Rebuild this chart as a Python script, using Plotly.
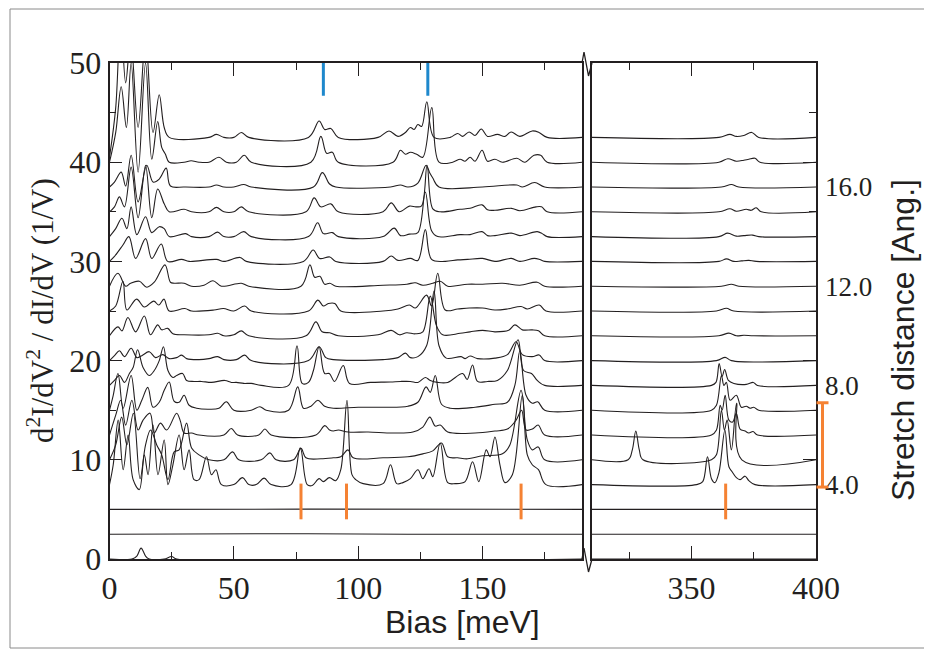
import plotly.graph_objects as go

# stacked d2I/dV2 spectra, one per stretch step (baseline offset 2.5 per step)
offsets = [0, 2.5, 5, 7.5, 10, 12.5, 15, 17.5, 20, 22.5, 25, 27.5, 30, 32.5, 35, 37.5, 40, 42.5]

# left panel (bias 0-190 meV): (bias, height above baseline)
t00 = [(0, 0), (9, 0), (11, 0.3), (12.7, 1.1), (14.5, 0.3), (16, 0), (22, 0), (25, 0.25), (27, 0), (190, 0)]
t01 = [(0, 0), (60, 0.05), (120, 0), (190, 0)]
t02 = [(0, 0), (80, 0.03), (190, 0)]
t03 = [(0, 0), (1.5, 2), (3.5, 6.5), (5.5, 1.5), (7.5, 5), (9.5, 0.5), (12, -0.5), (14, 3), (15.5, 1), (17.5, 6),
       (19.5, 1), (22, 4.5), (23.5, 0), (25.5, 2), (28, 5), (30, 1.5), (32, 3.5), (34, 0.5), (36, 0.5), (39, 2.8),
       (41, 1), (42.8, 1.5), (45, 0), (50, 0), (53.5, 0.7), (56, 0), (59, 0), (62.2, 0.65), (65, 0), (73, 0),
       (76.7, 3.7), (79.5, 0), (81.5, -0.1), (84.3, 0.6), (86, 0.3), (88.4, 0.7), (91, 0.4), (93, 1.5), (95.5, 8.5),
       (97.5, 1.0), (99, 0.5), (102, 0.1), (110, 0.1), (113, 2.0), (115.5, 0.1), (118, 0.2), (121, 0.6), (124, 1.5),
       (126, 0.6), (128.5, 1.6), (130, 0.8), (133, 4.2), (136, 0.2), (139, 0.1), (143, 0.3), (146, 2.3), (148.5, 0.3),
       (151.5, 3.5), (153, 2.8), (155, 4.8), (157, 2.0), (159, 0.2), (162, 1.0), (166, 9), (168, 3), (170, 2.0),
       (172.5, 1.5), (175.5, 0), (190, 0)]
t04 = [(0, 0), (2.5, 1.5), (4.9, 4.3), (7, 1.5), (9.6, 4.7), (12.3, -1.9), (14.5, 1.5), (16.5, 3), (19, 1.5),
       (21, 0.5), (23.5, -2.0), (26, 0.8), (28, 1.0), (31, 3.7), (33, 1.2), (36, 0.5), (40, 0), (46, 0), (49.5, 0.8),
       (52, 0), (61, 0), (64.5, 0.7), (67, 0), (74, 0), (77, 1.15), (79, 0.2), (85, 0.1), (90, 0.2), (93, 0.3),
       (95.9, 1.0), (98, 0.2), (110, 0.2), (120, 0.3), (126, 0.6), (130, 0.9), (133.5, 1.7), (136, 0.3), (140, 0.2),
       (144, 0.1), (150, 0.4), (158, 0.6), (161, 1.5), (165.5, 7), (168, 2), (170, 1.0), (172.4, 1.3), (175, 0), (190, 0)]
t05 = [(0, 0), (2.5, 2), (4.5, 3.5), (6.5, 1), (9, 3.5), (11.5, 0.5), (13.5, 1.5), (16.3, 2.2), (18, 0.2),
       (20.5, 1.2), (23, 0.5), (27, 2.2), (28.5, 1.4), (30, 0.2), (33, 0.2), (36, 0), (46, 0), (49, 0.65), (51.5, 0),
       (60, 0), (62.5, 0.6), (65, 0), (83, 0), (86.6, 0.95), (88.5, 0.5), (90, 0.4), (92, 0.5), (96, 0.3), (104, 0.3),
       (114, 0.2), (122, 0.3), (126, 0.8), (128.8, 1.8), (131, 0.9), (133, 1.0), (136, 0.3), (147, 0.2), (155, 0.4),
       (160, 0.6), (163.5, 1.5), (165.7, 2.5), (167.5, 0.5), (170, 0.6), (172.4, 1.0), (175, 0), (190, 0)]
t06 = [(0, 0), (1.5, 1.5), (3.4, 3.7), (5.5, 0.2), (8.7, 3.5), (11, 0), (13, 1.0), (15.4, 2.3), (17.5, 0.3),
       (20, 0.8), (22, 2), (24, 2.85), (26, 0.9), (28, 0.8), (30, 1.5), (32, 0.5), (35, 0.2), (40, 0.1), (44, 0.2),
       (47, 0.85), (50, 0), (57, 0), (60.5, 0.35), (63, 0), (72, 0), (75.7, 2.35), (78, 0.2), (81, 0.4), (83.8, 1.0),
       (86.5, 0.4), (90, 0.2), (100, 0.3), (110, 0.3), (120, 0.4), (124, 0.8), (127.3, 2.35), (129, 1.8), (131, 3.5),
       (133.5, 0.6), (137, 0.2), (147, 0.3), (155, 0.6), (160, 0.8), (163, 2.5), (165, 6), (167.5, 1.5), (170, 0.7),
       (172.2, 0.85), (175, 0), (190, 0)]
t07 = [(0, 0), (2, 0.5), (4, 1.0), (6, 0.3), (8, 1.2), (9.5, 1.8), (11.3, 3.6), (13.5, 1.8), (16, 1.0), (18, 1.5),
       (20, 2.5), (21.7, 3.9), (23.5, 1.5), (25.5, 0.8), (27, 1.0), (29.4, 1.2), (31, 0.5), (34, 0.4), (37, 0.4),
       (41, 0.3), (46.4, 0.5), (49, 0.3), (51, 0.3), (54, 0.2), (57, 0.2), (61, 0), (72, 0), (75.4, 4.0), (77.5, 0.2),
       (80, 0.3), (82, 1.5), (84.3, 3.9), (86.5, 1.2), (88.4, 1.2), (90.5, 0.4), (94, 2.0), (96.5, 0.2), (105, 0.3),
       (113, 0.35), (117, 0.4), (121, 0.4), (124, 0.3), (127, 0.8), (129, 0.5), (132, 0.3), (136, 0.3), (142, 1.2),
       (143.8, 0.6), (146, 2.05), (148, 0.4), (152, 0.4), (156, 0.5), (160, 1.5), (164.3, 4.6), (166.5, 1.5),
       (169.7, 1.2), (172, 0.5), (175, 0), (190, 0)]
t08 = [(0, 0), (2, 0.5), (4, 1.0), (6, 0.4), (8.7, 1.25), (11, 0.3), (13, 0.5), (16, 0.9), (18.5, 0.3), (21.4, 0.6),
       (24, 0.2), (27, 0.3), (29, 0.55), (31, 0.2), (36, 0.1), (40, 0.2), (43.5, 0.4), (46, 0.1), (51, 0.1),
       (54.4, 0.55), (57, 0), (80, 0), (84.3, 1.4), (87, 0.3), (90, 0.1), (110, 0.1), (116, 0.3), (119, 0.75),
       (121, 0.3), (124, 0.4), (127.5, 1.5), (130.5, 7.0), (132.5, 1.5), (135.4, 0.25), (141.4, 0.4), (143, 0.2),
       (145, 0.47), (148, 0.2), (155, 0.25), (160, 0.6), (163.5, 1.9), (166, 0.6), (170, 0.4), (172.8, 0.57),
       (175, 0), (190, 0)]
t09 = [(0, 0), (3.4, 0.9), (5, 0.5), (7.4, 1.85), (10.5, 0.4), (14, 2.0), (16.5, 0.1), (19.4, 1.1), (21, 0.6),
       (23.4, 0.75), (25.5, 0.2), (30, 0.1), (40, 0.1), (43.5, 0.25), (46, 0), (50, 0.1), (53, 0.5), (56, 0), (79, 0),
       (83, 1.4), (85.5, 0.4), (88.6, 0.3), (92, 0), (108, 0.1), (113.3, 0.55), (116.6, 0.1), (119.5, 0.3), (123, 0.2),
       (126, 0.4), (129, 4.0), (131.5, 1.0), (134, 0.1), (141, 0.25), (145, 0.4), (150, 0.55), (155, 0.4),
       (160.5, 0.55), (163, 1.1), (166, 0.6), (170, 0.6), (172.5, 0.5), (175, 0), (190, 0)]
t10 = [(0, 0), (2.5, 0.5), (5.4, 3.0), (7, 0.1), (10.9, 1.2), (14, 0.4), (17.8, 1.0), (19.8, 0.6), (21.9, 1.2),
       (24, 0), (30.3, 0.25), (33, 0), (42, 0.1), (45.8, 0.25), (50, 0), (54.4, 0.5), (57, 0), (80, 0), (83.8, 1.1),
       (86, 0.5), (88, 0.75), (90.6, 0.75), (93, 0), (110, 0), (116, 0.2), (120.6, 0.6), (123, 0.3), (127.5, 1.6),
       (129.5, 0.5), (132, 3.8), (135, 0.1), (140, 0.2), (144.7, 0.3), (150, 0.3), (155, 0.1), (160, 0.2),
       (165.5, 0.45), (168, 0.2), (172.8, 0.6), (175.5, 0), (190, 0)]
t11 = [(0, 0), (3.4, 1.3), (6.5, 0), (8.5, 0.3), (12, 0.5), (15, -0.1), (18, 0.4), (22.3, 2.15), (24.5, 0.4),
       (26, 0.3), (30, 0.3), (33, 0), (38, 0.1), (41.6, 0.55), (45, 0), (53, 0.3), (56, 0), (77, 0), (80.6, 2.15),
       (82.5, 0.9), (84.6, 1.0), (86.5, 0.2), (88.6, 0.3), (91, 0), (110, 0.1), (119.6, 0.2), (122.9, 0.35),
       (126, 0.1), (130, 0.3), (133, 0.5), (136, 0), (144, 0.2), (150, 0.2), (158, 0.3), (165, 0.1), (172, 0.4),
       (175, 0), (190, 0)]
t12 = [(0, 0), (2, 0.5), (5.4, 1.65), (7.8, 2.5), (10.5, 0.3), (14.5, 2.3), (17, 0.3), (20.8, 1.75), (23.4, 0),
       (29, 0.2), (32, 0), (43, 0.2), (46, 0), (52.5, 0.4), (55, 0), (78, 0), (81.9, 1.15), (84.5, 0.3), (88.6, 0.45),
       (91, 0), (110, 0), (113.3, 0.55), (116, 0.1), (121, 0.3), (124, 0.1), (127, 3.2), (129.5, 0.2), (135, 0),
       (140, 0.15), (144, 0.2), (150, 0.3), (155, 0), (161.6, 0.3), (165, 0), (170.8, 0.3), (173, 0.2), (175, 0),
       (190, 0)]
t13 = [(0, 0), (2.5, 0.8), (5, 1.85), (7, 0.8), (8.7, 3.0), (11, 0.2), (14.5, 2.0), (17, 0.4), (20, 1.0), (22, 0.8),
       (24, 0), (30.6, 0.3), (33, 0), (40, 0), (43.5, 0.45), (46, 0), (50, 0), (54, 0.5), (57, 0), (80, 0),
       (83.7, 1.4), (86, 0.3), (89.6, 0.4), (92, 0), (110, 0), (114.5, 0.85), (117, 0.1), (120.6, 0.25), (124, 0.4),
       (127, 4.5), (129.5, 0.6), (132, 0), (141, 0.2), (145, 0.2), (149.8, 0.5), (152, 0.1), (155, 0.1),
       (161.6, 0.35), (165, 0.1), (172, 0.5), (174, 0.3), (176, 0), (190, 0)]
t14 = [(0, 0), (2, 0.5), (4, 1.5), (6, 0.5), (8.7, 4.5), (11.5, -0.6), (14.5, 4.7), (17, -0.6), (19.4, 2.3),
       (22, 0.8), (24, 0), (30, 0.25), (33, 0), (40, 0), (43, 0.45), (46, 0), (50, 0), (53, 0.5), (56, 0), (79, 0),
       (82.3, 1.4), (85, 0.5), (89, 0.8), (92, 0), (110, 0), (113.3, 0.9), (116.5, 0), (120.6, 0.57), (123.3, 0.5),
       (125.5, 0.6), (127.7, 4.7), (130, 0.3), (133, 0), (141, 0.25), (145, 0.35), (149.8, 0.7), (152, 0.2),
       (155, 0.15), (161.6, 0.35), (165, 0.1), (171.5, 0.5), (173.7, 0.5), (176, 0), (190, 0)]
t15 = [(0, 0), (2, 0.5), (4.7, 1.5), (6.5, 0.1), (8.7, 3.2), (11.5, -1.5), (15, 2.2), (17.5, 0.5), (20, 0.8),
       (22.8, 1.9), (24.5, 0.1), (30, 0), (40, 0), (43, 0.2), (46, 0), (50, 0), (54, 0.25), (57, 0), (82, 0),
       (85.6, 1.45), (88.5, 0.3), (91, 0), (113, 0), (117, 0.2), (120, 0), (124, 0.4), (127.3, 2.2), (128.8, 1.4),
       (130, 0.9), (132.5, 0), (150, 0), (163.8, 0.2), (166, 0), (171, 0.45), (175, 0), (190, 0)]
t16 = [(0, 0), (2.5, 3.0), (4.7, 7.6), (6.8, 3.5), (8.7, 10), (11.5, -1.0), (14.5, 10), (17, 0.3), (19.4, 4.1),
       (21, 1.5), (22.5, 0.8), (24, 0), (30, 0), (32.8, 0.15), (36, 0), (40, 0), (44, 0.5), (47, 0), (51, 0),
       (54.2, 0.7), (57, 0), (81, 0), (85, 2.6), (87.3, 0.9), (89.6, 1.0), (92, 0), (114, 0), (117, 1.2), (119, 0.8),
       (121, 1.0), (123.5, 0.8), (126, 0.5), (129.6, 5.5), (132.5, 0), (138, 0), (141, 0.3), (143, 0.1), (145, 0.5),
       (147, 0.1), (149.8, 1.2), (152, 0.1), (155, 0.3), (158, 0), (163.8, 0.4), (167, 0), (170.7, 0.7),
       (173.4, 0.7), (176, 0), (190, 0)]
t17 = [(0, -2), (2.5, 3), (4.5, 12), (6.5, 5.5), (8.5, 10), (11.5, 1.0), (14.5, 10), (17.5, 0.5), (20, 4.3),
       (22, 1.0), (24, 0), (40, 0), (43, 0.3), (46, 0), (50, 0), (53, 0.5), (56, 0), (80, 0), (84.3, 1.65),
       (86.5, 0.8), (89, 0.9), (92, 0), (108, 0), (112.4, 0.65), (116, 0.1), (119, 0.5), (121, 1.0), (122.5, 0.8),
       (124, 1.3), (125.5, 1.1), (127.6, 3.6), (130.5, 0), (137, 0), (140, 0.4), (142, 0.1), (144.6, 0.55),
       (147, 0.2), (149.5, 0.85), (152, 0.1), (156, 0.3), (159, 0.1), (161.5, 0.55), (165, 0.1), (170, 0.65),
       (172.7, 0.5), (176, 0), (190, 0)]

# right panel (bias 310-400 meV)
r00 = [(310, 0), (400, 0)]
r01 = [(310, 0), (400, 0)]
r02 = [(310, 0), (400, 0)]
r03 = [(310, 0), (352, 0), (354.5, 0.3), (356.4, 2.8), (358, 0.6), (359.4, 0.2), (361, 1.2), (363.4, 5.5),
       (365, 1.8), (366.3, 1.3), (368, 0.7), (369.5, 0.5), (371.5, 0.85), (373, 0.4), (375.5, 0), (400, 0)]
r04 = [(310, 0), (324.5, 0), (326.2, 1.0), (327.6, 2.9), (329, 1.0), (330.5, 0), (358, 0), (360, 0.5), (362, 5),
       (363.2, 3), (364.3, 4), (366, 1.0), (368.1, 5.7), (370.2, 0), (400, 0)]
r05 = [(310, 0), (358, 0), (360, 0.5), (361.5, 3), (362.3, 2.5), (363.5, 4), (365, 1.5), (366.5, 1.3), (368, 2.2),
       (369.5, 0.6), (371.5, 0.4), (373, 0.2), (374.7, 0.35), (376.5, 0), (400, 0)]
r06 = [(310, 0), (358, 0), (360, 0.5), (362, 3.5), (363, 2.5), (364, 2.8), (365.5, 1.0), (368, 1.5), (370, 0.3),
       (372, 0.4), (373.5, 0.2), (375, 0.3), (377, 0), (400, 0)]
r07 = [(310, 0), (358, 0), (359.8, 0.3), (361.1, 2.2), (362.3, 0.9), (363.3, 1.6), (364.8, 0.5), (367, 0.2),
       (372, 0.1), (374.8, 0.3), (376.5, 0), (400, 0)]
r08 = [(310, 0), (360, 0), (363.5, 0.33), (366, 0), (400, 0)]
r09 = [(310, 0), (361, 0), (365, 0.27), (368, 0), (371, 0.05), (375, 0), (400, 0)]
r10 = [(310, 0), (360, 0), (364, 0.27), (367, 0), (400, 0)]
r11 = [(310, 0), (362, 0), (366, 0.2), (369, 0), (400, 0)]
r12 = [(310, 0), (361, 0), (364, 0.25), (367, 0), (370, 0.05), (373, 0.1), (376, 0), (400, 0)]
r13 = [(310, 0), (361, 0), (364.5, 0.35), (368, 0.05), (371, 0.1), (374.5, 0.15), (377, 0), (400, 0)]
r14 = [(310, 0), (361, 0), (365.4, 0.3), (368, 0.05), (372, 0.25), (374, 0.15), (376, 0.4), (378, 0), (400, 0)]
r15 = [(310, 0), (362, 0), (366, 0.25), (369, 0), (400, 0)]
r16 = [(310, 0), (361, 0), (364.6, 0.35), (368, 0.1), (371, 0.2), (373, 0.3), (375.5, 0.4), (377.5, 0), (400, 0)]
r17 = [(310, 0), (361, 0), (365.4, 0.3), (368, 0.1), (371, 0.2), (374.2, 0.5), (377, 0), (400, 0)]

left_spectra = [t00, t01, t02, t03, t04, t05, t06, t07, t08, t09, t10, t11, t12, t13, t14, t15, t16, t17]
right_spectra = [r00, r01, r02, r03, r04, r05, r06, r07, r08, r09, r10, r11, r12, r13, r14, r15, r16, r17]

# mode markers
blue_bias = [86, 128]
blue_span = [46.7, 50.3]
orange_bias_left = [77, 95.3, 165.5]
orange_bias_right = [363.7]
orange_span = [4.0, 7.6]
bracket_span = [3.9, 7.3]          # stretch distance [Ang.]
stretch_ticks = [4, 8, 12, 16]

W, H = 932, 661
PAGE = 8                           # the page body margin shifts the figure by 8 px
INK = "#231f20"
BLUE = "#1e88cc"
ORANGE = "#f58233"
SERIF = "Liberation Serif, Times New Roman, serif"
SANS = "Liberation Sans, Arial, sans-serif"


def px(p):
    return (p - PAGE) / W


def py(p):
    return 1 - (p - PAGE) / H


fig = go.Figure()
for pts, off in zip(left_spectra, offsets):
    fig.add_trace(go.Scatter(x=[p[0] for p in pts], y=[p[1] + off for p in pts], mode="lines",
                             line=dict(color=INK, width=1.1, shape="spline", smoothing=1.0),
                             xaxis="x", yaxis="y", showlegend=False, hoverinfo="skip"))
for pts, off in zip(right_spectra, offsets):
    fig.add_trace(go.Scatter(x=[p[0] for p in pts], y=[p[1] + off for p in pts], mode="lines",
                             line=dict(color=INK, width=1.1, shape="spline", smoothing=1.0),
                             xaxis="x2", yaxis="y2", showlegend=False, hoverinfo="skip"))

shapes = []
for b in blue_bias:
    shapes.append(dict(type="line", xref="x", yref="y", x0=b, x1=b, y0=blue_span[0], y1=blue_span[1],
                       line=dict(color=BLUE, width=3)))
for b in orange_bias_left:
    shapes.append(dict(type="line", xref="x", yref="y", x0=b, x1=b, y0=orange_span[0], y1=orange_span[1],
                       line=dict(color=ORANGE, width=3)))
for b in orange_bias_right:
    shapes.append(dict(type="line", xref="x2", yref="y2", x0=b, x1=b, y0=orange_span[0], y1=orange_span[1],
                       line=dict(color=ORANGE, width=3)))

# orange bracket beside the stretch axis
bx, cap = px(822.5), 6 / W
shapes.append(dict(type="line", xref="paper", yref="y3", x0=bx, x1=bx, y0=bracket_span[0], y1=bracket_span[1],
                   line=dict(color=ORANGE, width=3)))
for s in bracket_span:
    shapes.append(dict(type="line", xref="paper", yref="y3", x0=bx - cap, x1=bx + cap, y0=s, y1=s,
                       line=dict(color=ORANGE, width=3)))

# axis break zigzags
for ya in (63, 559):
    path = "M {} {} L {} {} L {} {} L {} {}".format(px(582), py(ya), px(584), py(ya - 11),
                                                    px(588.5), py(ya + 13), px(592), py(ya))
    shapes.append(dict(type="path", xref="paper", yref="paper", path=path, line=dict(color=INK, width=1.3)))

# outer frame
shapes.append(dict(type="rect", xref="paper", yref="paper", x0=px(10), x1=px(945), y0=py(648), y1=py(9),
                   line=dict(color="#8a8a8a", width=1)))

xcommon = dict(ticks="inside", ticklen=13, tickwidth=1.3, tickcolor=INK, showline=True, linecolor=INK,
               linewidth=1.6, mirror="ticks", showgrid=False, zeroline=False, automargin=False,
               tickfont=dict(family=SERIF, size=32, color=INK))
ycommon = dict(range=[0, 50], domain=[py(559), py(63)], ticks="inside", ticklen=13, tickwidth=1.3,
               tickcolor=INK, showline=True, linecolor=INK, linewidth=1.6, mirror=True, showgrid=False,
               zeroline=False, automargin=False, tickvals=[0, 10, 20, 30, 40, 50],
               minor=dict(dtick=5, tick0=0, ticks="inside", ticklen=7, tickcolor=INK, showgrid=False),
               tickfont=dict(family=SERIF, size=32, color=INK))

fig.update_layout(
    width=W, height=H, margin=dict(l=0, r=0, t=0, b=0, autoexpand=False),
    paper_bgcolor="white", plot_bgcolor="white",
    xaxis=dict(domain=[px(109.5), px(582)], range=[0, 190], anchor="y", tickvals=[0, 50, 100, 150],
               minor=dict(dtick=25, tick0=0, ticks="inside", ticklen=7, tickcolor=INK, showgrid=False),
               **xcommon),
    xaxis2=dict(domain=[px(592), px(816)], range=[310, 400], anchor="y2", tickvals=[350, 400],
                minor=dict(tickvals=[325, 375], ticks="inside", ticklen=7, tickcolor=INK, showgrid=False),
                **xcommon),
    yaxis=dict(anchor="x", side="left", **ycommon),
    yaxis2=dict(anchor="x2", side="right", matches="y", showticklabels=False,
                **{k: v for k, v in ycommon.items() if k != "tickfont"}),
    yaxis3=dict(overlaying="y", anchor="free", position=px(824), side="right", range=[1, 21],
                tickvals=stretch_ticks, ticktext=["{:.1f}".format(v) for v in stretch_ticks],
                ticks="", showline=False, showgrid=False, zeroline=False, automargin=False,
                tickfont=dict(family=SERIF, size=27, color=INK)),
    shapes=shapes,
    annotations=[
        dict(text="Bias [meV]", xref="paper", yref="paper", x=px(462), y=py(622), showarrow=False,
             font=dict(family=SANS, size=32, color=INK), xanchor="center", yanchor="middle"),
        dict(text="d<sup>2</sup>I/dV<sup>2</sup> / dI/dV (1/V)", xref="paper", yref="paper", x=px(40), y=py(311),
             showarrow=False, textangle=-90, font=dict(family=SERIF, size=31, color=INK),
             xanchor="center", yanchor="middle"),
        dict(text="Stretch distance [Ang.]", xref="paper", yref="paper", x=px(903), y=py(340), showarrow=False,
             textangle=-90, font=dict(family=SANS, size=32, color=INK), xanchor="center", yanchor="middle"),
    ],
)

fig.write_html("out.html")
